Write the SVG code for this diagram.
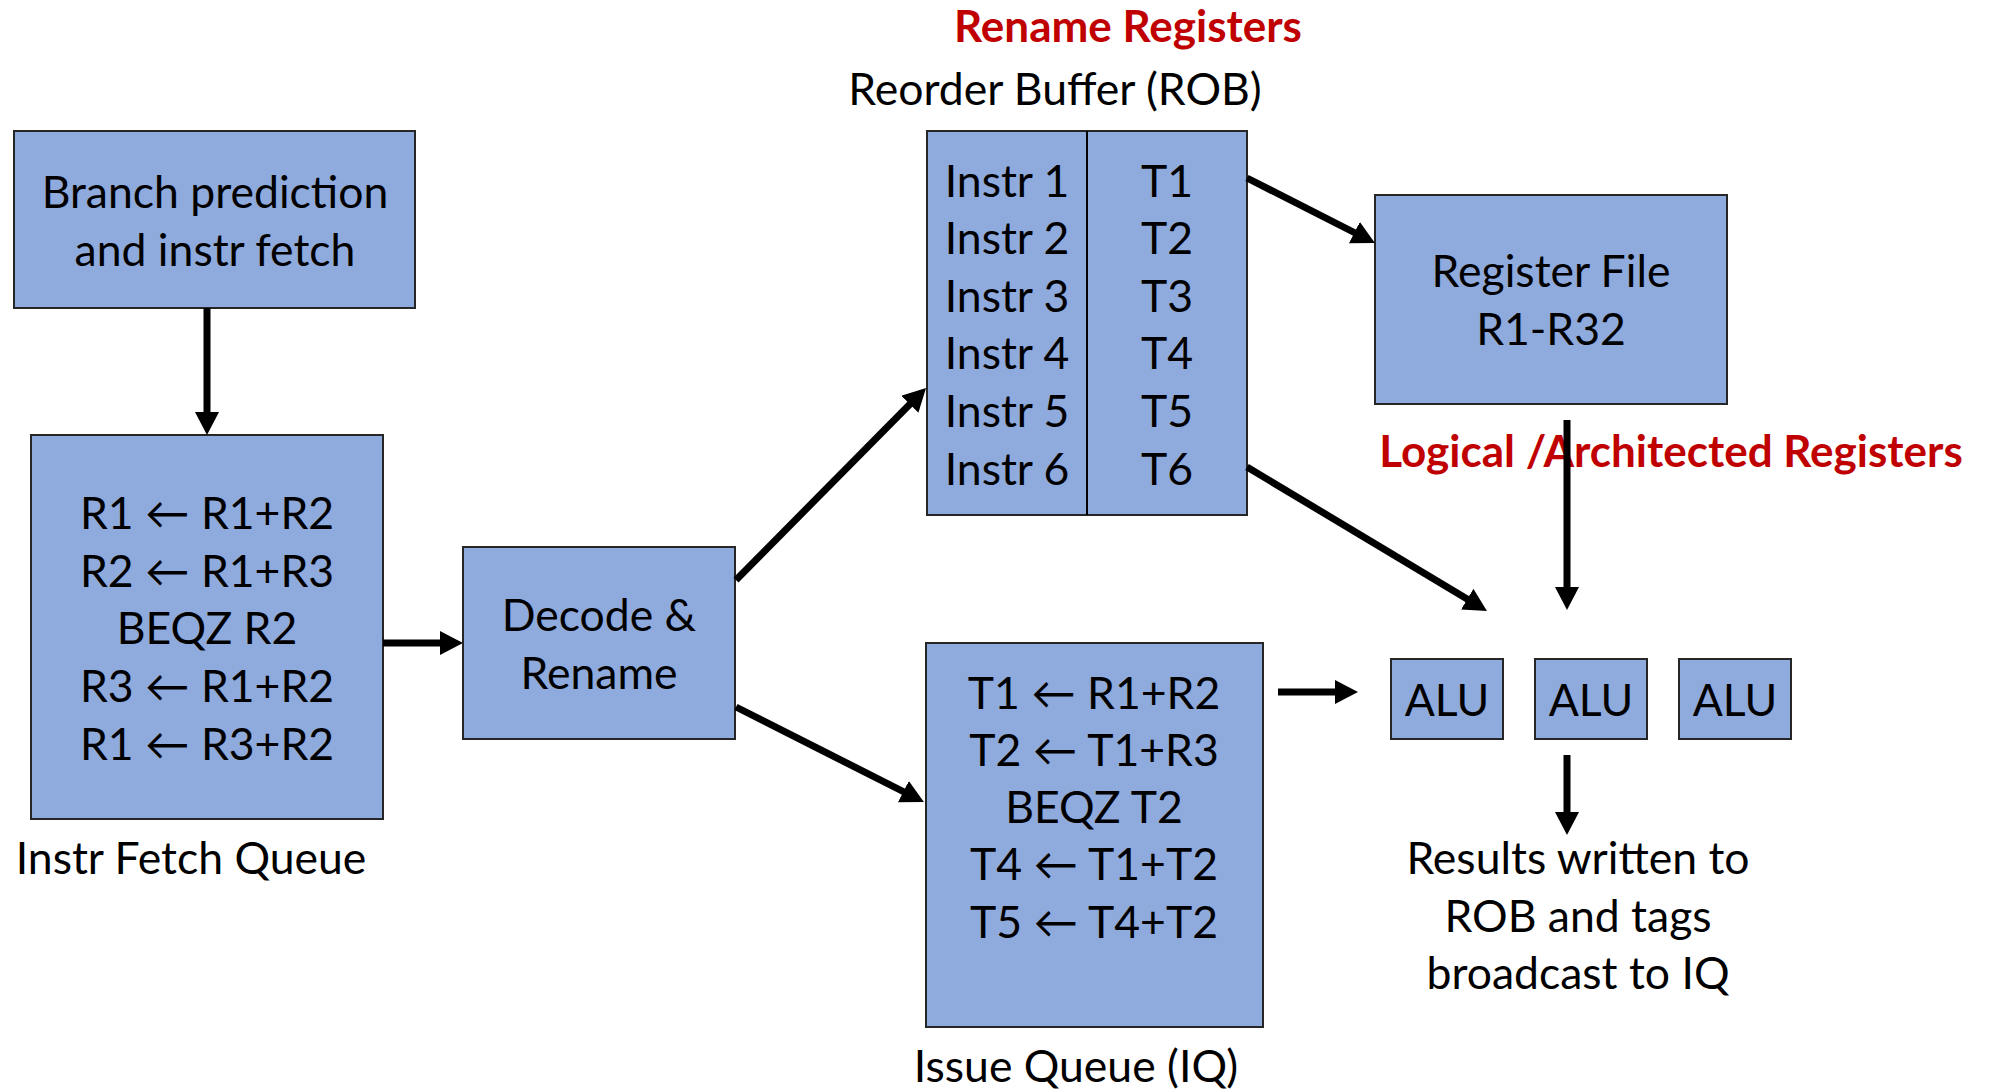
<svg xmlns="http://www.w3.org/2000/svg" width="1991" height="1090" viewBox="0 0 1991 1090">
  <style>
    .box { fill: #8FAADC; stroke: #262626; stroke-width: 2; }
    .t { font-family: Lato, "DejaVu Sans", sans-serif; font-size: 44.5px; fill: #000; text-anchor: middle; }
    .red { font-family: Lato, "DejaVu Sans", sans-serif; font-size: 44px; font-weight: bold; fill: #C00000; text-anchor: middle; }
    .wire { stroke: #000; stroke-width: 7; fill: none; marker-end: url(#head); }
  </style>
  <defs>
    <marker id="head" markerUnits="userSpaceOnUse" markerWidth="24" markerHeight="24" refX="13" refY="12" orient="auto">
      <path d="M0,0 L23,12 L0,24 Z" fill="#000"/>
    </marker>
  </defs>

  <rect width="1991" height="1090" fill="#fff"/>

  <!-- fetch stage -->
  <g id="branch-fetch">
    <rect class="box" x="14" y="131" width="401" height="177"/>
    <text class="t" x="215" y="208">Branch prediction</text>
    <text class="t" x="215" y="266">and instr fetch</text>
  </g>

  <g id="instr-fetch-queue">
    <rect class="box" x="31" y="435" width="352" height="384"/>
    <text class="t" x="207" y="529">R1 ← R1+R2</text>
    <text class="t" x="207" y="587">R2 ← R1+R3</text>
    <text class="t" x="207" y="644">BEQZ R2</text>
    <text class="t" x="207" y="702">R3 ← R1+R2</text>
    <text class="t" x="207" y="760">R1 ← R3+R2</text>
    <text class="t" x="191" y="874">Instr Fetch Queue</text>
  </g>

  <g id="decode-rename">
    <rect class="box" x="463" y="547" width="272" height="192"/>
    <text class="t" x="599" y="631">Decode &amp;</text>
    <text class="t" x="599" y="689">Rename</text>
  </g>

  <!-- reorder buffer: instruction column and tag column -->
  <g id="reorder-buffer">
    <text class="red" x="1128" y="42">Rename Registers</text>
    <text class="t" x="1055" y="105">Reorder Buffer (ROB)</text>
    <rect class="box" x="927" y="131" width="320" height="384"/>
    <line x1="1087" y1="131" x2="1087" y2="515" stroke="#000" stroke-width="2"/>
    <text class="t" x="1007" y="197">Instr 1</text>
    <text class="t" x="1007" y="254">Instr 2</text>
    <text class="t" x="1007" y="312">Instr 3</text>
    <text class="t" x="1007" y="369">Instr 4</text>
    <text class="t" x="1007" y="427">Instr 5</text>
    <text class="t" x="1007" y="485">Instr 6</text>
    <text class="t" x="1167" y="197">T1</text>
    <text class="t" x="1167" y="254">T2</text>
    <text class="t" x="1167" y="312">T3</text>
    <text class="t" x="1167" y="369">T4</text>
    <text class="t" x="1167" y="427">T5</text>
    <text class="t" x="1167" y="485">T6</text>
  </g>

  <g id="register-file">
    <rect class="box" x="1375" y="195" width="352" height="209"/>
    <text class="t" x="1551" y="287">Register File</text>
    <text class="t" x="1551" y="345">R1-R32</text>
    <text class="red" x="1671" y="467">Logical /Architected Registers</text>
  </g>

  <g id="issue-queue">
    <rect class="box" x="926" y="643" width="337" height="384"/>
    <text class="t" x="1094" y="709">T1 ← R1+R2</text>
    <text class="t" x="1094" y="766">T2 ← T1+R3</text>
    <text class="t" x="1094" y="823">BEQZ T2</text>
    <text class="t" x="1094" y="880">T4 ← T1+T2</text>
    <text class="t" x="1094" y="938">T5 ← T4+T2</text>
    <text class="t" x="1076" y="1082">Issue Queue (IQ)</text>
  </g>

  <g id="alu-1">
    <rect class="box" x="1391" y="659" width="112" height="80"/>
    <text class="t" x="1447" y="716">ALU</text>
  </g>
  <g id="alu-2">
    <rect class="box" x="1535" y="659" width="112" height="80"/>
    <text class="t" x="1591" y="716">ALU</text>
  </g>
  <g id="alu-3">
    <rect class="box" x="1679" y="659" width="112" height="80"/>
    <text class="t" x="1735" y="716">ALU</text>
  </g>

  <g id="results">
    <text class="t" x="1578" y="874">Results written to</text>
    <text class="t" x="1578" y="932">ROB and tags</text>
    <text class="t" x="1578" y="989">broadcast to IQ</text>
  </g>

  <!-- connectors: each line stops 10px short of its arrow tip -->
  <g id="connectors">
    <line class="wire" x1="207" y1="308" x2="207" y2="425"/>
    <line class="wire" x1="383" y1="643" x2="453" y2="643"/>
    <line class="wire" x1="736" y1="580" x2="919" y2="395"/>
    <line class="wire" x1="736" y1="707" x2="915" y2="797.5"/>
    <line class="wire" x1="1247" y1="178" x2="1366" y2="238.5"/>
    <line class="wire" x1="1247" y1="467" x2="1478.4" y2="605.8"/>
    <line class="wire" x1="1567" y1="420" x2="1567" y2="600"/>
    <line class="wire" x1="1278" y1="692" x2="1348" y2="692"/>
    <line class="wire" x1="1567" y1="755" x2="1567" y2="825"/>
  </g>
</svg>
